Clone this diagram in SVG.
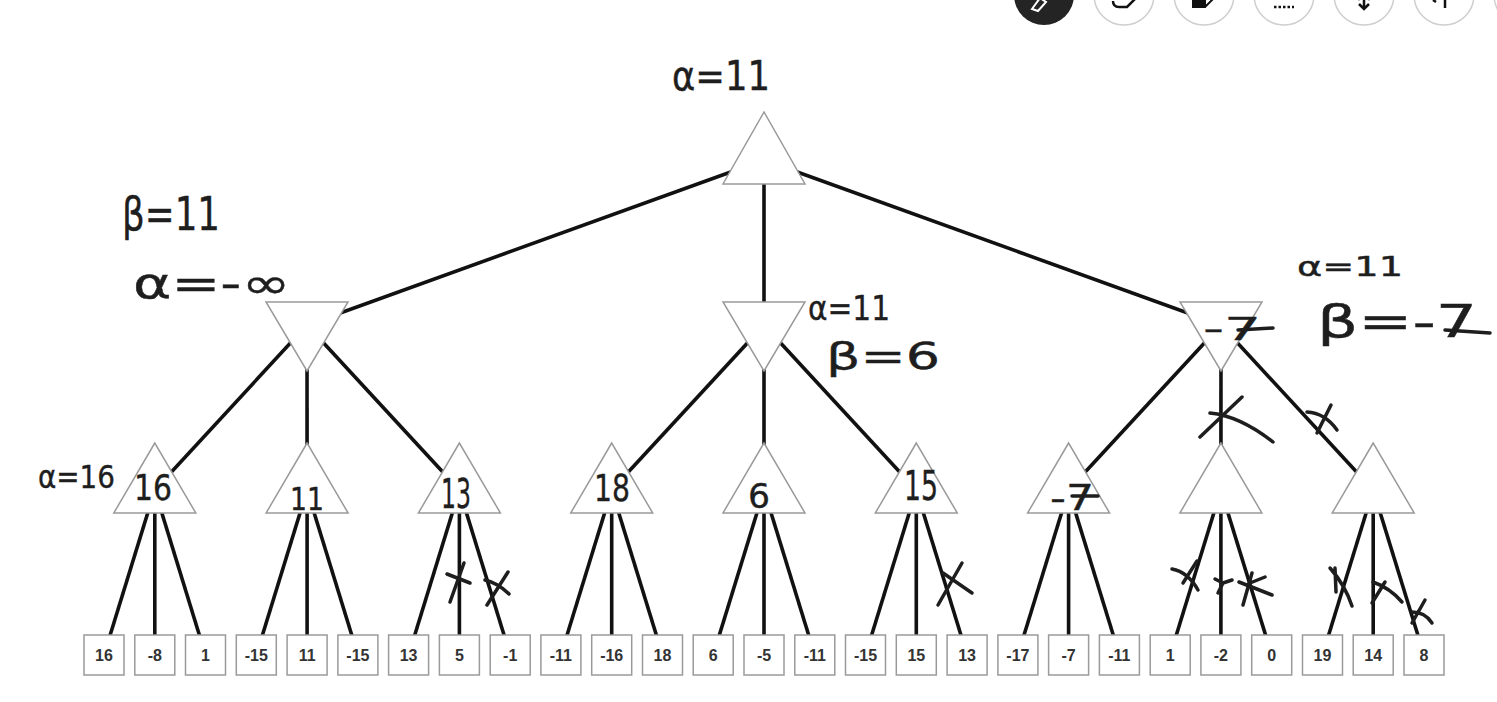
<svg xmlns="http://www.w3.org/2000/svg" width="1497" height="702" viewBox="0 0 1497 702">
<style>
.edge{stroke:#111;stroke-width:3.6;fill:none}
.tri{fill:#fff;stroke:#9a9a9a;stroke-width:1.5}
.leaf rect{fill:#fff;stroke:#9a9a9a;stroke-width:1.5}
.lt{font-family:"Liberation Sans",Arial,sans-serif;font-size:16px;font-weight:bold;fill:#333;text-anchor:middle}
.hw{font-family:"DejaVu Sans","Noto Sans",sans-serif;fill:#1e1e1e;stroke:#1e1e1e;stroke-width:0.4}
.mk{stroke:#1e1e1e;stroke-width:3.5;fill:none;stroke-linecap:round;stroke-linejoin:round}
.tb{fill:#fff;stroke:#cfcfcf;stroke-width:1.5}
</style>
<rect width="1497" height="702" fill="#fff"/>

<g id="toolbar">
<circle cx="1044" cy="-5" r="30" fill="#242424"/>
<path d="M1032 9 L1040 -2 L1046 2 L1038 11 Z" fill="none" stroke="#fff" stroke-width="2"/>
<circle class="tb" cx="1124" cy="-5" r="30"/>
<path d="M1113 1 q0 6 6 6 l8 0 l9 -9" fill="none" stroke="#111" stroke-width="2.5"/>
<circle class="tb" cx="1204" cy="-5" r="30"/>
<path d="M1193 -2 h12 v9 h-12 z M1205 7 l10 -10" fill="#111" stroke="#111" stroke-width="2"/>
<circle class="tb" cx="1284" cy="-5" r="30"/>
<path d="M1274 7 h20" stroke="#111" stroke-width="2.5" stroke-dasharray="2.5 2"/>
<circle class="tb" cx="1364" cy="-5" r="30"/>
<path d="M1364 -2 v10 M1359 4 l5 5 l5 -5 M1358 -1 h2 M1368 -1 h2" fill="none" stroke="#111" stroke-width="2.5"/>
<circle class="tb" cx="1444" cy="-5" r="30"/>
<path d="M1433 0 l3 2 M1445 -2 v10" fill="none" stroke="#111" stroke-width="2.5"/>
<circle class="tb" cx="1524" cy="-5" r="30"/>
</g>

<g id="connectors">
<line class="edge" x1="764" y1="160" x2="307" y2="325"/>
<line class="edge" x1="764" y1="160" x2="764" y2="325"/>
<line class="edge" x1="764" y1="160" x2="1221" y2="325"/>
<line class="edge" x1="307" y1="325" x2="154.8" y2="490"/>
<line class="edge" x1="307" y1="325" x2="307.1" y2="490"/>
<line class="edge" x1="307" y1="325" x2="459.4" y2="490"/>
<line class="edge" x1="764" y1="325" x2="611.7" y2="490"/>
<line class="edge" x1="764" y1="325" x2="764" y2="490"/>
<line class="edge" x1="764" y1="325" x2="916.3" y2="490"/>
<line class="edge" x1="1221" y1="325" x2="1068.6" y2="490"/>
<line class="edge" x1="1221" y1="325" x2="1220.9" y2="490"/>
<line class="edge" x1="1221" y1="325" x2="1373.2" y2="490"/>
<line class="edge" x1="154.8" y1="490" x2="104" y2="655"/>
<line class="edge" x1="154.8" y1="490" x2="154.8" y2="655"/>
<line class="edge" x1="154.8" y1="490" x2="205.5" y2="655"/>
<line class="edge" x1="307.1" y1="490" x2="256.3" y2="655"/>
<line class="edge" x1="307.1" y1="490" x2="307.1" y2="655"/>
<line class="edge" x1="307.1" y1="490" x2="357.9" y2="655"/>
<line class="edge" x1="459.4" y1="490" x2="408.6" y2="655"/>
<line class="edge" x1="459.4" y1="490" x2="459.4" y2="655"/>
<line class="edge" x1="459.4" y1="490" x2="510.2" y2="655"/>
<line class="edge" x1="611.7" y1="490" x2="560.9" y2="655"/>
<line class="edge" x1="611.7" y1="490" x2="611.7" y2="655"/>
<line class="edge" x1="611.7" y1="490" x2="662.5" y2="655"/>
<line class="edge" x1="764" y1="490" x2="713.2" y2="655"/>
<line class="edge" x1="764" y1="490" x2="764" y2="655"/>
<line class="edge" x1="764" y1="490" x2="814.8" y2="655"/>
<line class="edge" x1="916.3" y1="490" x2="865.5" y2="655"/>
<line class="edge" x1="916.3" y1="490" x2="916.3" y2="655"/>
<line class="edge" x1="916.3" y1="490" x2="967.1" y2="655"/>
<line class="edge" x1="1068.6" y1="490" x2="1017.9" y2="655"/>
<line class="edge" x1="1068.6" y1="490" x2="1068.6" y2="655"/>
<line class="edge" x1="1068.6" y1="490" x2="1119.4" y2="655"/>
<line class="edge" x1="1220.9" y1="490" x2="1170.2" y2="655"/>
<line class="edge" x1="1220.9" y1="490" x2="1220.9" y2="655"/>
<line class="edge" x1="1220.9" y1="490" x2="1271.7" y2="655"/>
<line class="edge" x1="1373.2" y1="490" x2="1322.5" y2="655"/>
<line class="edge" x1="1373.2" y1="490" x2="1373.2" y2="655"/>
<line class="edge" x1="1373.2" y1="490" x2="1424" y2="655"/>
</g>

<g id="root"><polygon class="tri" points="764,112 723,184 805,184"/></g>
<g id="min1"><polygon class="tri" points="266,302 348,302 307,371"/></g>
<g id="min2"><polygon class="tri" points="723,302 805,302 764,371"/></g>
<g id="min3"><polygon class="tri" points="1180,302 1262,302 1221,371"/></g>

<g id="max1"><polygon class="tri" points="154.8,443 113.8,513 195.8,513"/></g>
<g id="max2"><polygon class="tri" points="307.1,443 266.1,513 348.1,513"/></g>
<g id="max3"><polygon class="tri" points="459.4,443 418.4,513 500.4,513"/></g>
<g id="max4"><polygon class="tri" points="611.7,443 570.7,513 652.7,513"/></g>
<g id="max5"><polygon class="tri" points="764,443 723,513 805,513"/></g>
<g id="max6"><polygon class="tri" points="916.3,443 875.3,513 957.3,513"/></g>
<g id="max7"><polygon class="tri" points="1068.6,443 1027.6,513 1109.6,513"/></g>
<g id="max8"><polygon class="tri" points="1220.9,443 1179.9,513 1261.9,513"/></g>
<g id="max9"><polygon class="tri" points="1373.2,443 1332.2,513 1414.2,513"/></g>

<g id="leaf1" class="leaf"><rect x="84" y="635" width="40" height="40"/><text class="lt" x="104" y="661">16</text></g>
<g id="leaf2" class="leaf"><rect x="134.8" y="635" width="40" height="40"/><text class="lt" x="154.8" y="661">-8</text></g>
<g id="leaf3" class="leaf"><rect x="185.5" y="635" width="40" height="40"/><text class="lt" x="205.5" y="661">1</text></g>
<g id="leaf4" class="leaf"><rect x="236.3" y="635" width="40" height="40"/><text class="lt" x="256.3" y="661">-15</text></g>
<g id="leaf5" class="leaf"><rect x="287.1" y="635" width="40" height="40"/><text class="lt" x="307.1" y="661">11</text></g>
<g id="leaf6" class="leaf"><rect x="337.9" y="635" width="40" height="40"/><text class="lt" x="357.9" y="661">-15</text></g>
<g id="leaf7" class="leaf"><rect x="388.6" y="635" width="40" height="40"/><text class="lt" x="408.6" y="661">13</text></g>
<g id="leaf8" class="leaf"><rect x="439.4" y="635" width="40" height="40"/><text class="lt" x="459.4" y="661">5</text></g>
<g id="leaf9" class="leaf"><rect x="490.2" y="635" width="40" height="40"/><text class="lt" x="510.2" y="661">-1</text></g>
<g id="leaf10" class="leaf"><rect x="540.9" y="635" width="40" height="40"/><text class="lt" x="560.9" y="661">-11</text></g>
<g id="leaf11" class="leaf"><rect x="591.7" y="635" width="40" height="40"/><text class="lt" x="611.7" y="661">-16</text></g>
<g id="leaf12" class="leaf"><rect x="642.5" y="635" width="40" height="40"/><text class="lt" x="662.5" y="661">18</text></g>
<g id="leaf13" class="leaf"><rect x="693.2" y="635" width="40" height="40"/><text class="lt" x="713.2" y="661">6</text></g>
<g id="leaf14" class="leaf"><rect x="744" y="635" width="40" height="40"/><text class="lt" x="764" y="661">-5</text></g>
<g id="leaf15" class="leaf"><rect x="794.8" y="635" width="40" height="40"/><text class="lt" x="814.8" y="661">-11</text></g>
<g id="leaf16" class="leaf"><rect x="845.5" y="635" width="40" height="40"/><text class="lt" x="865.5" y="661">-15</text></g>
<g id="leaf17" class="leaf"><rect x="896.3" y="635" width="40" height="40"/><text class="lt" x="916.3" y="661">15</text></g>
<g id="leaf18" class="leaf"><rect x="947.1" y="635" width="40" height="40"/><text class="lt" x="967.1" y="661">13</text></g>
<g id="leaf19" class="leaf"><rect x="997.9" y="635" width="40" height="40"/><text class="lt" x="1017.9" y="661">-17</text></g>
<g id="leaf20" class="leaf"><rect x="1048.6" y="635" width="40" height="40"/><text class="lt" x="1068.6" y="661">-7</text></g>
<g id="leaf21" class="leaf"><rect x="1099.4" y="635" width="40" height="40"/><text class="lt" x="1119.4" y="661">-11</text></g>
<g id="leaf22" class="leaf"><rect x="1150.2" y="635" width="40" height="40"/><text class="lt" x="1170.2" y="661">1</text></g>
<g id="leaf23" class="leaf"><rect x="1200.9" y="635" width="40" height="40"/><text class="lt" x="1220.9" y="661">-2</text></g>
<g id="leaf24" class="leaf"><rect x="1251.7" y="635" width="40" height="40"/><text class="lt" x="1271.7" y="661">0</text></g>
<g id="leaf25" class="leaf"><rect x="1302.5" y="635" width="40" height="40"/><text class="lt" x="1322.5" y="661">19</text></g>
<g id="leaf26" class="leaf"><rect x="1353.2" y="635" width="40" height="40"/><text class="lt" x="1373.2" y="661">14</text></g>
<g id="leaf27" class="leaf"><rect x="1404" y="635" width="40" height="40"/><text class="lt" x="1424" y="661">8</text></g>

<g id="annotations">
<text class="hw" x="672" y="90" font-size="40" textLength="98" lengthAdjust="spacingAndGlyphs">α=11</text>
<text class="hw" x="122" y="230" font-size="46" textLength="98" lengthAdjust="spacingAndGlyphs">β=11</text>
<text class="hw" x="133" y="298" font-size="42" textLength="157" lengthAdjust="spacingAndGlyphs">α=-∞</text>
<text class="hw" x="808" y="320" font-size="34" textLength="82" lengthAdjust="spacingAndGlyphs">α=11</text>
<text class="hw" x="826" y="369" font-size="38" textLength="114" lengthAdjust="spacingAndGlyphs">β=6</text>
<text class="hw" x="1297" y="276" font-size="26" textLength="106" lengthAdjust="spacingAndGlyphs">α=11</text>
<text class="hw" x="1317" y="337" font-size="44" textLength="160" lengthAdjust="spacingAndGlyphs">β=-7</text>
<path class="mk" d="M1445 330 L1490 333"/>
<text class="hw" x="1203" y="340" font-size="32" textLength="58" lengthAdjust="spacingAndGlyphs">-7</text>
<path class="mk" d="M1238 330 L1273 328"/>
<text class="hw" x="38" y="488" font-size="32" textLength="77" lengthAdjust="spacingAndGlyphs">α=16</text>
<text class="hw" x="134" y="500" font-size="36" textLength="38" lengthAdjust="spacingAndGlyphs">16</text>
<text class="hw" x="290" y="510" font-size="32" textLength="34" lengthAdjust="spacingAndGlyphs">11</text>
<text class="hw" x="441" y="508" font-size="40" textLength="30" lengthAdjust="spacingAndGlyphs">13</text>
<text class="hw" x="594" y="501" font-size="38" textLength="36" lengthAdjust="spacingAndGlyphs">18</text>
<text class="hw" x="748" y="508" font-size="34" textLength="22" lengthAdjust="spacingAndGlyphs">6</text>
<text class="hw" x="904" y="500" font-size="40" textLength="34" lengthAdjust="spacingAndGlyphs">15</text>
<text class="hw" x="1050" y="510" font-size="36" textLength="44" lengthAdjust="spacingAndGlyphs">-7</text>
<path class="mk" d="M1072 496 L1098 496"/>
</g>

<g id="cross-marks">
<path class="mk" d="M447 574 L470 583 M464 563 L450 602"/>
<path class="mk" d="M487 605 L508 572 M485 580 Q498 583 509 594"/>
<path class="mk" d="M938 605 L962 563 M943 573 L972 593"/>
<path class="mk" d="M1242 397 L1200 437 M1210 413 Q1240 416 1273 442"/>
<path class="mk" d="M1307 412 Q1325 413 1337 430 M1331 405 L1317 433"/>
<path class="mk" d="M1172 569 Q1188 572 1198 590 M1183 583 L1197 561"/>
<path class="mk" d="M1215 579 L1223 583 L1232 580 M1218 593 L1223 583"/>
<path class="mk" d="M1239 582 L1272 595 M1252 573 L1243 605 M1250 583 L1265 577"/>
<path class="mk" d="M1330 568 Q1345 585 1352 606 M1335 568 L1336 592"/>
<path class="mk" d="M1372 603 L1385 582 M1373 582 Q1390 588 1402 602"/>
<path class="mk" d="M1412 623 L1425 600 M1412 612 Q1425 612 1432 623"/>
</g>
</svg>
